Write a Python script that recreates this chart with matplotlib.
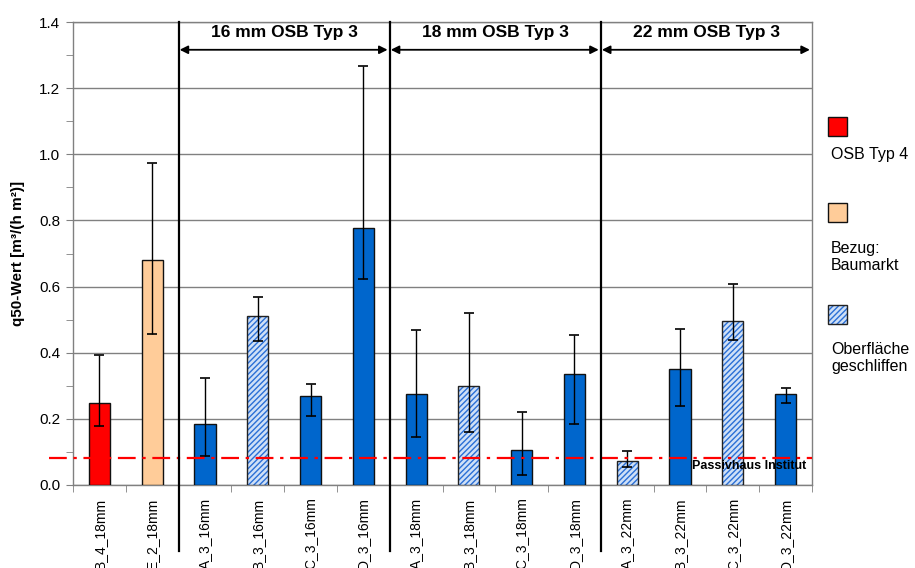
import matplotlib
matplotlib.use("Agg")
import matplotlib.pyplot as plt
from matplotlib.patches import Rectangle
import numpy as np

plt.rcParams['font.family'] = ['Liberation Sans', 'DejaVu Sans']

# data
labels = ["B_4_18mm", "E_2_18mm", "A_3_16mm", "B_3_16mm", "C_3_16mm", "D_3_16mm",
          "A_3_18mm", "B_3_18mm", "C_3_18mm", "D_3_18mm",
          "A_3_22mm", "B_3_22mm", "C_3_22mm", "D_3_22mm"]
values = [0.249, 0.680, 0.183, 0.510, 0.268, 0.777,
          0.274, 0.298, 0.107, 0.335,
          0.073, 0.352, 0.496, 0.275]
err_low = [0.177, 0.457, 0.088, 0.436, 0.208, 0.624,
           0.145, 0.160, 0.029, 0.183,
           0.055, 0.240, 0.437, 0.249]
err_high = [0.394, 0.973, 0.325, 0.569, 0.306, 1.268,
            0.469, 0.521, 0.221, 0.453,
            0.104, 0.473, 0.607, 0.294]
kinds = ["typ4", "baumarkt", "plain", "sanded", "plain", "plain",
         "plain", "sanded", "plain", "plain",
         "sanded", "plain", "sanded", "plain"]
group_names = ["16 mm OSB Typ 3", "18 mm OSB Typ 3", "22 mm OSB Typ 3"]
group_bounds = [1.5, 5.5, 9.5, 13.5]
passivhaus = 0.082

colors = {"typ4": "#ff0000", "baumarkt": "#ffcc99", "plain": "#0066cc", "sanded": "#cfe0f7"}
hatch_col = "#2a6fd6"

fig = plt.figure(figsize=(9.15, 5.68), dpi=100)
ax = fig.add_axes([73 / 915, 1 - 485 / 568, 739 / 915, 463 / 568])

x = np.arange(len(labels))
vals = np.array(values)
yerr = [vals - np.array(err_low), np.array(err_high) - vals]

for i, k in enumerate(kinds):
    if k == "sanded":
        ax.bar(x[i], values[i], width=0.4, color=colors[k], edgecolor=hatch_col,
               hatch="//////", linewidth=0, zorder=3)
        ax.bar(x[i], values[i], width=0.4, fill=False, edgecolor="#222222",
               linewidth=1.0, zorder=4)
    else:
        ax.bar(x[i], values[i], width=0.4, color=colors[k], edgecolor="#111111",
               linewidth=1.0, zorder=3)

ax.errorbar(x, values, yerr=yerr, fmt="none", ecolor="black", elinewidth=1,
            capsize=3.5, capthick=1.2, zorder=5)

# passivhaus limit
ax.plot([-0.95, 13.5], [passivhaus, passivhaus], color="red", lw=1.6,
        dashes=[8, 3, 1.5, 3], clip_on=False, zorder=6)
ax.text(0.992, 0.04, "Passivhaus Institut", transform=ax.transAxes,
        ha="right", va="center", fontsize=9, fontweight="bold", zorder=7)

# separators and group arrows
for b in group_bounds[:-1]:
    ax.plot([b, b], [-0.2, 1.4], color="black", lw=1.6, clip_on=False, zorder=6)
for name, a, b in zip(group_names, group_bounds[:-1], group_bounds[1:]):
    ax.annotate("", xy=(a + 0.02, 1.316), xytext=(b - 0.04, 1.316),
                arrowprops=dict(arrowstyle="<|-|>", color="black", lw=1.3,
                                mutation_scale=12, shrinkA=0, shrinkB=0),
                annotation_clip=False)
    ax.text((a + b) / 2, 1.368, name, ha="center", va="center",
            fontsize=12.5, fontweight="bold")

ax.set_xlim(-0.5, 13.5)
ax.set_ylim(0, 1.4)
ax.set_yticks(np.arange(0, 1.41, 0.2))
ax.set_yticks(np.arange(0, 1.41, 0.1), minor=True)
ax.set_yticklabels([f"{v:.1f}" for v in np.arange(0, 1.41, 0.2)], fontsize=11)
ax.set_xticks(x)
ax.set_xticklabels(labels, rotation=90, fontsize=10, va="top")
ax.set_xticks(np.arange(-0.5, 13.6, 1), minor=True)
ax.tick_params(axis="x", which="major", length=0, pad=9)
ax.tick_params(axis="x", which="minor", length=5, color="#808080", direction="out")
ax.tick_params(axis="y", which="both", length=5, color="#808080", pad=4)
ax.yaxis.grid(True, color="#808080", lw=1)
ax.set_axisbelow(True)
for s in ax.spines.values():
    s.set_color("#808080")
    s.set_linewidth(1)

ax.set_ylabel("q50-Wert [m³/(h m²)]", fontsize=11, fontweight="bold", labelpad=10)

# custom legend on the right
W, H = 915, 568
legend_items = [("typ4", 117, "OSB Typ 4", 154),
                ("baumarkt", 203, "Bezug:\nBaumarkt", 257),
                ("sanded", 305, "Oberfläche\ngeschliffen", 358)]
for k, top, txt, ty in legend_items:
    if k == "sanded":
        r = Rectangle((828 / W, 1 - (top + 19) / H), 19 / W, 19 / H, transform=fig.transFigure,
                      facecolor=colors[k], edgecolor=hatch_col, hatch="//////", linewidth=0)
        fig.patches.append(r)
        fig.patches.append(Rectangle((828 / W, 1 - (top + 19) / H), 19 / W, 19 / H,
                                     transform=fig.transFigure, fill=False,
                                     edgecolor="#222222", linewidth=1))
    else:
        fig.patches.append(Rectangle((828 / W, 1 - (top + 19) / H), 19 / W, 19 / H,
                                     transform=fig.transFigure, facecolor=colors[k],
                                     edgecolor="#111111", linewidth=1))
    fig.text(831 / W, 1 - ty / H, txt, ha="left", va="center", fontsize=11.5, linespacing=1.2)

fig.savefig("out.png", dpi=100)
